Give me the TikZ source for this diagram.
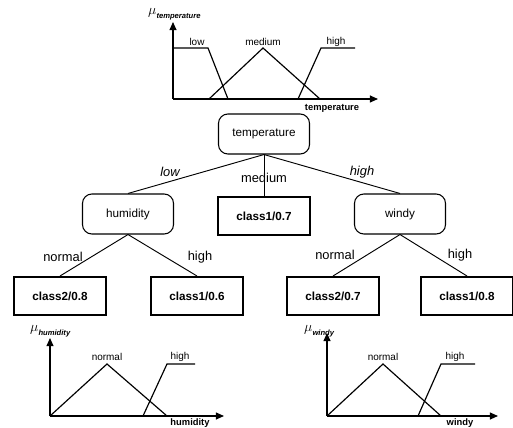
\documentclass[tikz,border=0pt]{standalone}
\usepackage{fontspec}
\setmainfont{Liberation Sans}
\usetikzlibrary{positioning}
\usetikzlibrary{arrows.meta}

\newcommand{\musub}[1]{{\large$\mu$}\raisebox{-0.6ex}{\fontsize{6.5}{6.5}\selectfont\bfseries\itshape #1}}

\begin{document}
\begin{tikzpicture}[x=0.03cm, y=-0.03cm,
				attr/.style={rectangle, rounded corners=8pt, draw, line width=0.9pt,
						minimum width=2.73cm, minimum height=1.2cm,
						font=\fontsize{10}{12}\selectfont, text centered},
				leaf/.style={rectangle, draw, line width=1.7pt,
						minimum width=2.75cm, minimum height=1.14cm,
						font=\fontsize{10}{12}\selectfont\bfseries, text centered},
				branch/.style={font=\fontsize{11}{13}\selectfont},
				fuzzy/.style={font=\fontsize{8.5}{10}\selectfont},
				axis/.style={line width=1.1pt, -{Triangle[length=7pt, width=6pt]}},
				mf/.style={line width=1pt}
			]
			\useasboundingbox (0,0) rectangle (513,428);

			% membership functions of temperature
			\draw[axis] (173,99) -- (173,22);
			\draw[axis] (173,99) -- (378,99);
			\draw[mf] (173,48) -- (208,48) -- (228,99);
			\draw[mf] (209,99) -- (263,48) -- (320,99);
			\draw[mf] (298,99) -- (321,48) -- (355,48);
			\node[anchor=west, inner sep=0pt] (mutemp) at (148,14) {\musub{temperature}};
			\node[fuzzy] (tlow) at (197,42) {low};
			\node[fuzzy] (tmed) at (263,42) {medium};
			\node[fuzzy] (thigh) at (336,42) {high};
			\node[fuzzy, font=\fontsize{8}{10}\selectfont\bfseries] (taxis) at (332,108) {temperature};

			% decision tree
			\node[attr] (temp) at (264,134) {temperature};
			\node[attr] (hum) at (128,214) {humidity};
			\node[leaf] (c07) at (264,216) {class1/0.7};
			\node[attr] (windy) at (400,214) {windy};
			\node[leaf] (c208) at (60,296) {class2/0.8};
			\node[leaf] (c106) at (197,296) {class1/0.6};
			\node[leaf] (c207) at (333,296) {class2/0.7};
			\node[leaf] (c108) at (467,296) {class1/0.8};

			\draw[line width=0.8pt] (temp.south) -- (hum.north);
			\draw[line width=0.8pt] (temp.south) -- (c07.north);
			\draw[line width=0.8pt] (temp.south) -- (windy.north);
			\draw[line width=0.8pt] (hum.south) -- (c208.north);
			\draw[line width=0.8pt] (hum.south) -- (c106.north);
			\draw[line width=0.8pt] (windy.south) -- (c207.north);
			\draw[line width=0.8pt] (windy.south) -- (c108.north);

			\node[branch] (blow) at (170,172) {\itshape low};
			\node[branch] (bmed) at (264,178) {medium};
			\node[branch] (bhigh) at (362,172) {\itshape high};
			\node[branch] (hnorm) at (63,257) {normal};
			\node[branch] (hhigh) at (200,257) {high};
			\node[branch] (wnorm) at (335,255) {normal};
			\node[branch] (whigh) at (460,255) {high};

			% membership functions of humidity
			\draw[axis] (50,416) -- (50,338);
			\draw[axis] (50,416) -- (224,416);
			\draw[mf] (50,416) -- (107,364) -- (167,416);
			\draw[mf] (143,416) -- (167,364) -- (195,364);
			\node[anchor=west, inner sep=0pt] (muhum) at (30,331) {\musub{humidity}};
			\node[fuzzy] (hnlbl) at (107,357) {normal};
			\node[fuzzy] (hhlbl) at (180,357) {high};
			\node[fuzzy, font=\fontsize{8}{10}\selectfont\bfseries] (haxis) at (190,423) {humidity};

			% membership functions of windy
			\draw[axis] (327,416) -- (327,333);
			\draw[axis] (327,416) -- (498,416);
			\draw[mf] (327,416) -- (383,364) -- (441,416);
			\draw[mf] (418,416) -- (441,364) -- (475,364);
			\node[anchor=west, inner sep=0pt] (muwin) at (304,331) {\musub{windy}};
			\node[fuzzy] (wnlbl) at (383,357) {normal};
			\node[fuzzy] (whlbl) at (455,357) {high};
			\node[fuzzy, font=\fontsize{8}{10}\selectfont\bfseries] (waxis) at (460,423) {windy};

		\end{tikzpicture}
\end{document}
